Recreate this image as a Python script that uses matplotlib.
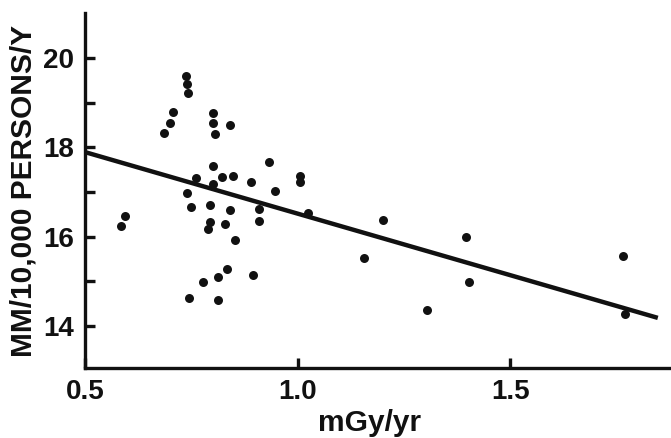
import matplotlib
matplotlib.use('agg')
import matplotlib.pyplot as plt
import numpy as np

# dose rate (mGy/yr) and MM rate per 10,000 persons/yr
dose = [0.738, 0.739, 0.743, 0.707, 0.700, 0.686, 0.802, 0.800, 0.806, 0.840,
        0.800, 0.760, 0.822, 0.847, 0.933, 0.801, 0.740, 0.890, 0.946, 1.006,
        1.006, 0.749, 0.793, 0.840, 0.909, 1.024, 0.908, 0.793, 0.789, 0.829,
        0.853, 0.833, 0.812, 0.778, 0.895, 0.745, 0.812, 0.585, 0.594, 1.200,
        1.157, 1.397, 1.404, 1.304, 1.765, 1.769]
rate = [19.60, 19.41, 19.21, 18.79, 18.54, 18.31, 18.76, 18.54, 18.29, 18.50,
        17.57, 17.32, 17.33, 17.35, 17.66, 17.17, 16.98, 17.21, 17.03, 17.36,
        17.21, 16.67, 16.71, 16.60, 16.61, 16.52, 16.35, 16.33, 16.18, 16.27,
        15.92, 15.28, 15.10, 14.99, 15.13, 14.62, 14.58, 16.24, 16.45, 16.36,
        15.51, 15.98, 14.98, 14.35, 15.57, 14.27]

# fitted line end points
fit_x = [0.5, 1.847]
fit_y = [17.89, 14.18]

x_ticks = [0.5, 1.0, 1.5]
x_labels = ['0.5', '1.0', '1.5']
y_ticks = [14, 15, 16, 17, 18, 19, 20]
y_labels = ['14', '', '16', '', '18', '', '20']

plt.rcParams['font.family'] = ['Liberation Sans', 'DejaVu Sans']
plt.rcParams['font.weight'] = 'bold'

fig = plt.figure(figsize=(6.71, 4.38), dpi=100)
ax = fig.add_axes([0.1267, 0.160, 0.8733, 0.810])

ax.scatter(dose, rate, s=42, color='#111111', zorder=3, linewidths=0)
ax.plot(fit_x, fit_y, color='#111111', lw=3.2, solid_capstyle='butt')

ax.set_xlim(0.5, 1.878)
ax.set_ylim(13.06, 21.0)
ax.set_xticks(x_ticks)
ax.set_xticklabels(x_labels)
ax.set_yticks(y_ticks)
ax.set_yticklabels(y_labels)

for side in ['top', 'right']:
    ax.spines[side].set_visible(False)
for side in ['left', 'bottom']:
    ax.spines[side].set_linewidth(2.4)
    ax.spines[side].set_color('#111111')

ax.tick_params(direction='in', length=7, width=2.4, color='#111111',
               labelsize=20, labelcolor='#111111', pad=8)

ax.set_xlabel('mGy/yr', fontsize=21.5, fontweight='bold', color='#111111',
              va='baseline')
ax.xaxis.set_label_coords(0.485, -0.177)
ax.set_ylabel('MM/10,000 PERSONS/Y', fontsize=21.5, fontweight='bold',
              color='#111111')
ax.yaxis.set_label_coords(-0.081, 0.5)

fig.savefig('out.png', dpi=100)
